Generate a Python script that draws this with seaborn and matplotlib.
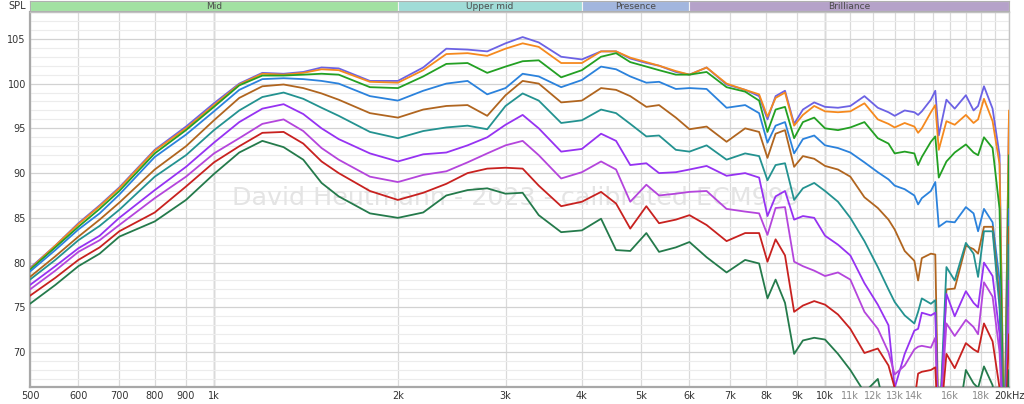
import matplotlib
matplotlib.use("Agg")
import matplotlib.pyplot as plt
from matplotlib.ticker import FixedLocator, NullFormatter
import numpy as np
import pandas as pd
import seaborn as sns

sns.set_theme(style="white")
plt.rcParams["font.family"] = ["DejaVu Sans"]

# frequency grid (Hz), 66 points, rows of 11
FREQ = [500, 550, 600, 650, 700, 800, 900, 1000, 1100, 1200, 1300,
        1400, 1500, 1600, 1800, 2000, 2200, 2400, 2600, 2800, 3000, 3200,
        3400, 3700, 4000, 4300, 4550, 4800, 5100, 5350, 5700, 6000, 6400,
        6900, 7400, 7800, 8050, 8300, 8600, 8900, 9200, 9600, 10000, 10500,
        11000, 11600, 12200, 12700, 13000, 13500, 14000, 14200, 14400, 14900, 15150,
        15350, 15800, 16300, 17000, 17500, 17800, 18200, 18800, 19300, 19650, 20000]

SPL_1 = [79.4, 81.9, 84.4, 86.4, 88.4, 92.6, 95.2, 97.8, 100.0, 101.2, 101.1,
         101.3, 101.8, 101.7, 100.3, 100.3, 101.8, 103.9, 103.8, 103.6, 104.5, 105.2,
         104.6, 103.0, 102.7, 103.6, 103.6, 102.8, 102.3, 102.0, 101.3, 101.0, 101.8,
         99.9, 99.3, 98.6, 96.0, 98.6, 99.2, 95.5, 97.1, 97.9, 97.4, 97.3,
         97.5, 98.6, 97.3, 96.8, 96.4, 97.0, 96.8, 96.5, 96.9, 98.2, 99.2,
         94.2, 98.2, 97.2, 98.7, 97.0, 97.5, 99.7, 97.2, 92.0, 58.0, 96.5]
SPL_2 = [79.3, 81.9, 84.3, 86.3, 88.3, 92.5, 95.0, 97.6, 99.9, 101.1, 101.0,
         101.2, 101.6, 101.5, 100.2, 100.1, 101.5, 103.3, 103.4, 103.1, 103.9, 104.5,
         104.1, 102.3, 102.3, 103.6, 103.6, 102.9, 102.4, 102.0, 101.4, 101.0, 101.8,
         100.0, 99.3, 98.8, 96.3, 98.4, 99.0, 95.3, 96.5, 97.5, 96.9, 96.8,
         96.9, 97.8, 96.0, 95.5, 95.1, 95.6, 95.2, 94.5, 95.0, 96.8, 97.6,
         92.6, 95.8, 95.4, 96.5, 95.6, 96.0, 98.3, 95.8, 91.0, 58.0, 97.0]
SPL_3 = [79.2, 81.7, 84.0, 86.0, 88.0, 92.2, 94.8, 97.4, 99.8, 100.9, 100.9,
         101.0, 101.1, 101.0, 99.6, 99.5, 100.8, 102.2, 102.3, 101.2, 101.9, 102.5,
         102.6, 100.7, 101.5, 103.0, 103.4, 102.4, 101.9, 101.5, 101.0, 101.0, 101.3,
         99.6, 99.1, 98.1, 94.6, 97.1, 97.4, 93.9, 95.7, 96.2, 95.0, 94.8,
         95.1, 95.7, 93.9, 93.3, 92.2, 92.4, 92.2, 90.9, 91.8, 93.5, 94.1,
         89.5, 91.3, 92.3, 93.2, 92.3, 92.0, 94.0, 92.8, 86.0, 58.0, 92.0]
SPL_4 = [79.0, 81.4, 83.7, 85.5, 87.6, 91.8, 94.3, 96.9, 99.3, 100.5, 100.6,
         100.5, 100.3, 100.0, 98.6, 98.1, 99.2, 100.0, 100.3, 98.8, 99.5, 101.1,
         100.8, 99.6, 100.4, 101.9, 101.6, 100.8, 100.1, 100.2, 99.4, 99.5, 99.4,
         97.3, 97.6, 96.7, 93.4, 95.3, 95.7, 92.2, 93.8, 94.2, 93.1, 92.8,
         92.3, 91.2, 90.1, 89.3, 88.6, 88.2, 87.5, 86.5, 87.2, 88.0, 89.0,
         84.0, 84.6, 84.5, 86.2, 85.5, 83.5, 86.0, 84.5, 78.0, 58.0, 86.0]
SPL_5 = [78.4, 80.7, 82.9, 84.8, 86.7, 90.4, 93.0, 95.9, 98.4, 99.7, 99.9,
         99.5, 98.9, 98.2, 96.7, 96.2, 97.1, 97.5, 97.6, 96.4, 98.7, 100.3,
         100.0, 97.9, 98.1, 99.5, 99.3, 98.6, 97.4, 97.6, 96.2, 94.9, 95.2,
         93.5, 95.0, 94.6, 91.7, 94.4, 94.8, 90.7, 91.9, 91.6, 90.8, 90.4,
         89.6, 87.3, 86.1, 84.8, 83.7, 81.3, 80.2, 78.0, 80.5, 81.0, 80.9,
         60.0, 77.0, 77.1, 81.9, 81.5, 81.0, 84.0, 84.0, 76.0, 58.0, 84.0]
SPL_6 = [78.1, 80.3, 82.5, 84.1, 85.9, 89.6, 92.0, 94.8, 97.0, 98.5, 99.0,
         98.3, 97.3, 96.4, 94.6, 93.9, 94.7, 95.1, 95.3, 94.9, 97.5, 98.9,
         98.1, 95.6, 95.9, 97.1, 96.7, 95.5, 94.1, 94.2, 92.6, 92.4, 93.1,
         91.5, 92.2, 91.9, 89.2, 90.9, 91.1, 87.0, 88.3, 88.9, 88.0, 86.8,
         85.0, 82.4, 79.5, 77.0, 75.6, 74.1, 73.2, 74.5, 76.0, 75.4, 75.8,
         60.0, 79.5, 78.0, 82.2, 81.0, 78.4, 83.5, 83.5, 75.0, 58.0, 82.0]
SPL_7 = [77.5, 79.6, 81.6, 83.0, 85.0, 88.1, 90.7, 93.4, 95.7, 97.2, 97.7,
         96.6, 95.0, 93.8, 92.2, 91.3, 92.1, 92.3, 93.1, 94.0, 95.4, 96.5,
         95.0, 92.4, 92.7, 94.4, 93.6, 90.9, 91.1, 90.0, 90.1, 90.4, 90.8,
         89.7, 90.0, 89.5, 85.2, 87.4, 88.0, 84.8, 85.2, 85.0, 83.0, 82.0,
         80.8, 77.7, 75.3, 73.0, 66.0, 69.8, 72.4, 72.6, 74.4, 74.1, 74.4,
         60.0, 76.5, 74.0, 76.8, 75.5, 75.0, 80.0, 78.5, 72.0, 58.0, 78.0]
SPL_8 = [77.0, 79.1, 81.2, 82.5, 84.2, 87.2, 89.6, 92.2, 93.9, 95.5, 96.0,
         94.7, 92.8, 91.5, 89.6, 89.0, 89.8, 90.2, 91.2, 92.2, 93.1, 93.6,
         92.0, 89.4, 90.1, 91.3, 90.4, 86.8, 88.7, 87.5, 87.7, 87.9, 88.0,
         86.0, 85.7, 85.5, 83.1, 86.1, 86.2, 80.1, 79.6, 79.1, 78.5, 78.9,
         78.1, 74.5, 72.6, 70.0, 67.5, 68.5, 70.3, 70.6, 70.7, 70.5, 71.6,
         60.0, 73.2, 71.8, 73.6, 72.8, 72.0, 77.8, 76.2, 70.0, 58.0, 75.0]
SPL_9 = [76.3, 78.3, 80.3, 81.7, 83.5, 85.6, 88.5, 91.2, 93.0, 94.5, 94.6,
         93.3, 91.3, 90.0, 88.0, 87.0, 87.8, 88.8, 90.0, 90.5, 90.6, 90.5,
         88.6, 86.3, 86.8, 87.9, 86.6, 83.8, 86.3, 84.4, 84.8, 85.3, 84.2,
         82.4, 83.3, 83.3, 80.1, 82.6, 80.8, 74.5, 75.2, 75.7, 75.3, 74.2,
         72.6, 69.9, 70.4, 68.5, 66.0, 63.0, 64.5, 67.6, 67.8, 68.0, 68.3,
         60.0, 69.8, 68.2, 71.0, 70.3, 70.0, 73.2, 71.2, 66.0, 58.0, 72.0]
SPL_10 = [75.4, 77.5, 79.6, 81.0, 82.9, 84.6, 87.0, 89.9, 92.3, 93.6, 92.9,
          91.5, 88.9, 87.4, 85.5, 85.0, 85.6, 87.5, 88.1, 88.3, 87.7, 87.8,
          85.3, 83.4, 83.6, 84.9, 81.4, 81.3, 83.3, 81.2, 81.7, 82.3, 80.6,
          78.9, 80.3, 79.9, 76.0, 78.1, 75.5, 69.8, 71.3, 71.6, 71.4, 69.8,
          68.0, 65.5, 67.0, 62.0, 60.0, 60.0, 60.0, 60.0, 60.0, 60.0, 60.0,
          58.0, 60.0, 60.0, 68.0, 66.5, 66.0, 68.4, 66.3, 60.0, 58.0, 68.0]

TRACES = ["1", "2", "3", "4", "5", "6", "7", "8", "9", "10"]
TRACE_COLORS = ["#6c62e4", "#f5891e", "#23a023", "#2b82dc", "#b0651f",
                "#239290", "#9632f2", "#b445dc", "#c8211f", "#247a4b"]
SERIES = [SPL_1, SPL_2, SPL_3, SPL_4, SPL_5, SPL_6, SPL_7, SPL_8, SPL_9, SPL_10]

BANDS = ["Mid", "Upper mid", "Presence", "Brilliance"]
BAND_EDGES = [500, 2000, 4000, 6000, 20000]
BAND_COLORS = ["#a2e1a2", "#a0dcd7", "#a2b6de", "#b5a2c9"]

X_TICKS = [500, 600, 700, 800, 900, 1000, 2000, 3000, 4000, 5000, 6000, 7000,
           8000, 9000, 10000, 11000, 12000, 13000, 14000, 16000, 18000, 20000]
X_LABELS = ["500", "600", "700", "800", "900", "1k", "2k", "3k", "4k", "5k", "6k",
            "7k", "8k", "9k", "10k", "11k", "12k", "13k", "14k", "16k", "18k", "20kHz"]
X_LIGHT = ["11k", "12k", "13k", "14k", "16k", "18k"]
X_EXTRA_GRID = [15000, 17000, 19000]
Y_TICKS = [70, 75, 80, 85, 90, 95, 100, 105]

rows = []
for name, vals in zip(TRACES, SERIES):
    for f, v in zip(FREQ, vals):
        rows.append({"freq": f, "spl": v, "trace": name})
df = pd.DataFrame(rows)

W, H = 1024, 404
fig = plt.figure(figsize=(W / 100, H / 100), dpi=100)
fig.patch.set_facecolor("white")
ax = fig.add_axes([30 / W, 17 / H, 979 / W, 375 / H])
ax.set_xscale("log")
ax.set_xlim(500, 20000)
ax.set_ylim(66.1, 108)

# grid
ax.xaxis.set_major_locator(FixedLocator(X_TICKS))
ax.xaxis.set_minor_locator(FixedLocator(X_EXTRA_GRID))
ax.xaxis.set_minor_formatter(NullFormatter())
ax.set_xticklabels(X_LABELS)
ax.yaxis.set_major_locator(FixedLocator(Y_TICKS))
ax.yaxis.set_minor_locator(FixedLocator(list(range(67, 109))))
ax.grid(axis="x", which="both", color="#dadada", lw=0.9)
ax.grid(axis="y", which="major", color="#d2d2d2", lw=0.9)
ax.grid(axis="y", which="minor", color="#ececec", lw=0.8)
ax.axvline(1000, color="#b4b4b4", lw=1.0, zorder=0.5)
ax.axvline(10000, color="#b4b4b4", lw=1.0, zorder=0.5)
ax.set_axisbelow(True)

ax.text(1070, 86.4, "David Heutmann - 2023 - calibrated ECM999", fontsize=18.3,
        color="#e4e4e4", va="baseline", ha="left", zorder=1)

sns.lineplot(data=df, x="freq", y="spl", hue="trace", hue_order=TRACES,
             palette=dict(zip(TRACES, TRACE_COLORS)), estimator=None, sort=False,
             legend=False, lw=1.3, ax=ax, zorder=3)

ax.set_xlabel("")
ax.set_ylabel("")
ax.tick_params(which="both", length=0, labelsize=7, colors="#333333", pad=3)
for lab in ax.get_xticklabels():
    if lab.get_text() in X_LIGHT:
        lab.set_color("#8a8a8a")
for side in ["left", "bottom"]:
    ax.spines[side].set_color("#a8a8a8")
    ax.spines[side].set_linewidth(1.6)
for side in ["top", "right"]:
    ax.spines[side].set_color("#c4c4c4")
    ax.spines[side].set_linewidth(1.0)

# frequency band header
hax = fig.add_axes([30 / W, 393 / H, 979 / W, 10 / H])
hax.set_xscale("log")
hax.set_xlim(500, 20000)
hax.set_ylim(0, 1)
for name, lo, hi, c in zip(BANDS, BAND_EDGES[:-1], BAND_EDGES[1:], BAND_COLORS):
    hax.axvspan(lo, hi, color=c, ec="#f4f4f4", lw=0.8)
    hax.text(np.sqrt(lo * hi), 0.45, name, ha="center", va="center",
             fontsize=6.5, color="#4a4a4a")
hax.set_xticks([])
hax.set_yticks([])
hax.minorticks_off()
for s in hax.spines.values():
    s.set_color("#b0b0b0")
    s.set_linewidth(0.8)

fig.text(17 / W, 1 - 6 / H, "SPL", ha="center", va="center", fontsize=7, color="#333333")

fig.savefig("out.png", dpi=100, facecolor="white")
